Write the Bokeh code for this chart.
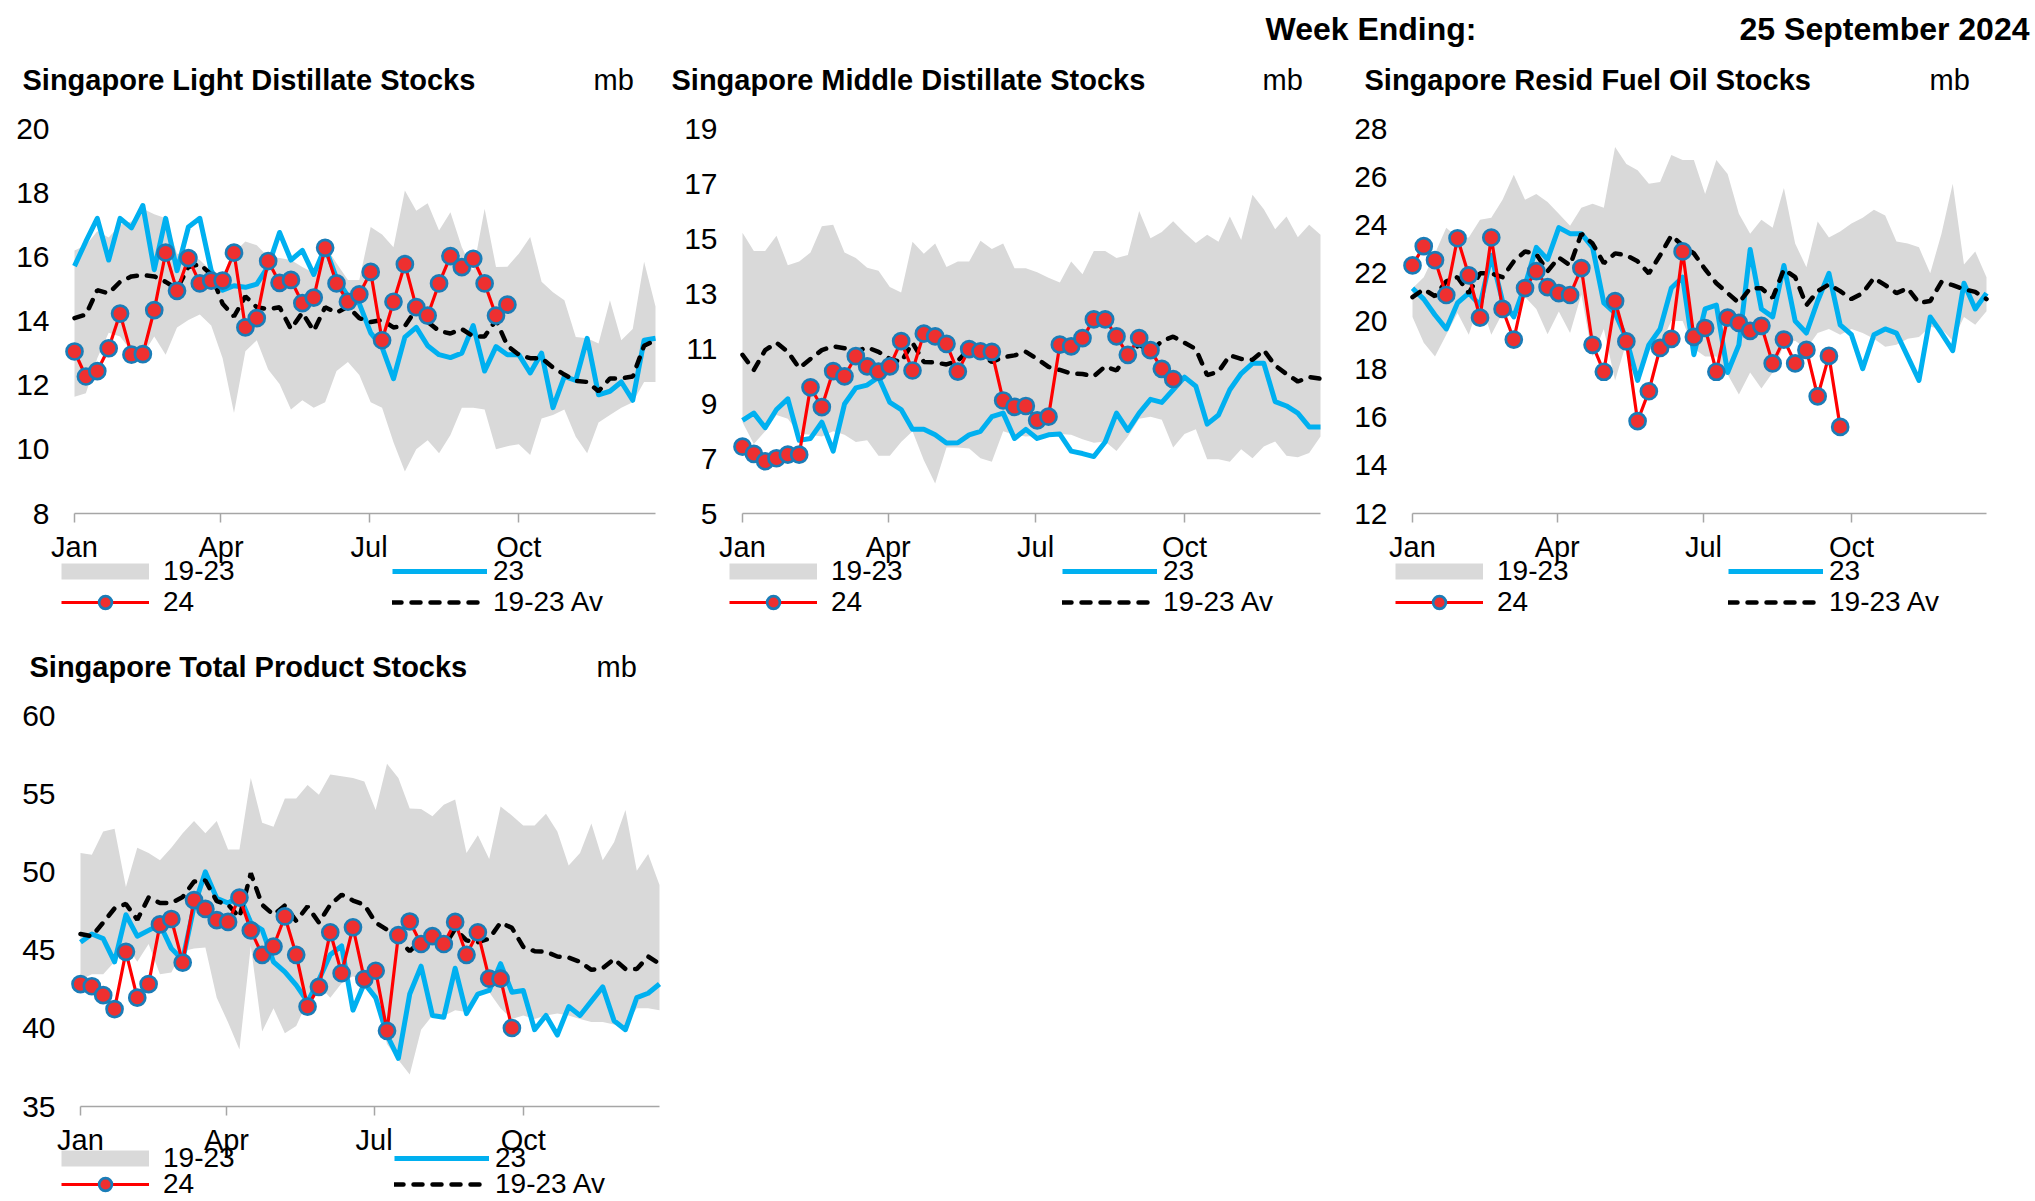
from bokeh.plotting import figure
from bokeh.models import Range1d, FixedTicker, Label, Legend, LegendItem, ColumnDataSource
from bokeh.layouts import column, row
from bokeh.embed import file_html
from bokeh.resources import INLINE

# ---------------- data ----------------
WEEKS = list(range(52))          # week index of the year (0 = first week of Jan)
WEEKS_24 = list(range(39))       # 2024 data up to week ending 25 Sep
MONTH_POS = [0, 90 / 7, 181 / 7, 273 / 7]
MONTHS = ["Jan", "Apr", "Jul", "Oct"]

# Singapore Light Distillate Stocks (mb)
LD_MAX = [16.2, 16.36, 16.8, 16.6, 17.0, 17.1, 17.5, 17.33, 17.2, 16.1, 16.1, 15.9, 15.57, 15.45, 16.13, 16.48,
          16.36, 16.0, 15.96, 15.9, 15.68, 15.5, 16.36, 15.8, 15.28, 15.28, 16.93, 16.7, 16.3, 18.07, 17.44, 17.67,
          16.82, 17.39, 16.3, 15.57, 17.5, 15.68, 15.69, 16.1, 16.62, 15.22, 14.9, 14.65, 13.5, 13.46, 13.3, 14.65,
          13.4, 13.75, 15.85, 14.45]
LD_MIN = [11.64, 11.75, 12.84, 13.63, 13.52, 13.06, 12.95, 13.52, 12.95, 13.8, 14.03, 14.2, 13.86, 12.84, 11.13,
          13.06, 13.4, 12.49, 12.04, 11.24, 11.53, 11.3, 11.47, 12.44, 12.72, 12.32, 11.47, 11.3, 10.22, 9.31, 10.0,
          10.28, 9.88, 10.45, 11.3, 11.3, 11.24, 10.0, 10.1, 10.16, 9.82, 10.96, 11.07, 11.24, 10.39, 9.88, 10.84,
          11.07, 11.3, 11.47, 12.1, 12.1]
LD_AVG = [14.09, 14.2, 14.96, 14.86, 15.22, 15.39, 15.43, 15.39, 15.22, 15.0, 15.68, 15.77, 15.45, 14.54, 14.14,
          14.77, 14.43, 14.37, 14.43, 13.75, 14.26, 13.69, 14.43, 14.26, 14.45, 14.09, 13.97, 14.03, 13.8, 13.84,
          14.37, 13.97, 13.69, 13.61, 13.75, 13.52, 13.52, 14.03, 13.23, 12.95, 12.84, 12.84, 12.55, 12.33, 12.13,
          12.1, 11.81, 12.21, 12.21, 12.27, 13.23, 13.4]
LD_23 = [15.71, 16.48, 17.2, 15.9, 17.2, 16.9, 17.6, 15.6, 17.2, 15.57, 16.93, 17.2, 15.57, 14.96, 15.1, 15.05,
         15.15, 15.7, 16.76, 15.9, 16.2, 15.45, 16.3, 15.34, 14.77, 14.54, 13.63, 13.18, 12.2, 13.5, 13.8, 13.23,
         12.95, 12.86, 13.0, 13.86, 12.44, 13.2, 12.95, 12.95, 12.38, 13.0, 11.3, 12.27, 12.15, 13.46, 11.7, 11.81,
         12.1, 11.53, 13.4, 13.46]
LD_24 = [13.05, 12.27, 12.44, 13.15, 14.23, 12.95, 12.97, 14.34, 16.13, 14.94, 15.96, 15.17, 15.26, 15.26, 16.13,
         13.8, 14.09, 15.87, 15.19, 15.28, 14.56, 14.73, 16.28, 15.17, 14.6, 14.83, 15.53, 13.4, 14.6, 15.77, 14.43,
         14.17, 15.17, 16.02, 15.68, 15.94, 15.17, 14.17, 14.51]

# Singapore Middle Distillate Stocks (mb)
MD_MAX = [15.21, 14.55, 14.55, 15.1, 14.03, 14.16, 14.49, 15.45, 15.5, 14.49, 14.29, 13.94, 13.83, 13.24, 13.04,
          14.88, 14.45, 14.82, 13.96, 14.16, 14.16, 14.92, 14.62, 14.82, 13.92, 13.92, 13.77, 13.57, 13.4, 14.16,
          13.7, 14.55, 14.55, 14.29, 14.4, 16.0, 15.01, 15.24, 15.63, 15.21, 14.84, 15.14, 14.88, 15.8, 14.95, 16.59,
          16.06, 15.34, 15.8, 15.05, 15.5, 15.14]
MD_MIN = [8.32, 7.53, 7.99, 8.58, 8.45, 7.9, 7.86, 7.8, 7.99, 7.86, 7.6, 7.66, 7.1, 7.1, 7.6, 7.99, 6.94, 6.09,
          7.4, 7.4, 7.36, 7.01, 6.88, 7.99, 7.86, 7.8, 7.83, 7.86, 7.89, 7.86, 7.7, 7.57, 7.62, 7.27, 7.8, 8.45,
          8.52, 8.41, 7.4, 7.89, 8.06, 6.97, 6.97, 6.88, 7.34, 7.01, 7.44, 7.62, 7.1, 7.05, 7.2, 7.8]
MD_AVG = [10.77, 10.22, 10.94, 11.21, 10.88, 10.29, 10.62, 10.94, 11.08, 11.01, 10.88, 11.04, 10.88, 10.62, 10.51,
          11.21, 10.51, 10.49, 10.42, 10.55, 10.98, 10.81, 10.51, 10.68, 10.75, 10.88, 10.62, 10.33, 10.22, 10.09,
          10.07, 9.99, 10.35, 10.2, 10.77, 11.14, 10.88, 11.27, 11.43, 11.21, 10.98, 10.03, 10.16, 10.75, 10.62,
          10.59, 10.94, 10.38, 10.07, 9.8, 9.96, 9.9]
MD_23 = [8.39, 8.65, 8.12, 8.78, 9.17, 7.66, 7.73, 8.32, 7.27, 8.98, 9.57, 9.67, 9.96, 9.04, 8.78, 8.06, 8.06, 7.86,
         7.56, 7.57, 7.86, 7.99, 8.52, 8.65, 7.73, 8.06, 7.73, 7.86, 7.89, 7.27, 7.18, 7.07, 7.6, 8.65, 8.02, 8.65,
         9.15, 9.04, 9.5, 9.96, 9.63, 8.25, 8.58, 9.5, 10.09, 10.46, 10.46, 9.07, 8.91, 8.65, 8.15, 8.15]
MD_24 = [7.43, 7.17, 6.9, 7.01, 7.14, 7.14, 9.59, 8.87, 10.18, 9.99, 10.72, 10.35, 10.16, 10.35, 11.27, 10.2, 11.54,
         11.44, 11.17, 10.16, 10.98, 10.9, 10.88, 9.11, 8.88, 8.91, 8.39, 8.52, 11.14, 11.08, 11.38, 12.06, 12.06,
         11.44, 10.77, 11.38, 10.94, 10.26, 9.89]

# Singapore Resid Fuel Oil Stocks (mb)
RF_MAX = [21.36, 21.82, 22.81, 23.88, 23.47, 23.47, 24.21, 24.29, 25.04, 26.08, 25.04, 25.28, 24.95, 24.46, 23.96,
          24.71, 24.87, 24.71, 27.23, 26.52, 26.27, 25.7, 25.78, 26.9, 26.69, 26.69, 25.28, 26.69, 26.11, 24.46,
          23.63, 24.21, 23.88, 25.53, 23.22, 22.23, 24.13, 23.47, 23.72, 24.05, 24.29, 24.62, 24.38, 23.3, 23.22,
          23.06, 21.98, 23.63, 25.7, 22.35, 22.89, 21.82]
RF_MIN = [20.17, 19.1, 18.52, 19.43, 20.33, 19.43, 20.83, 19.43, 20.33, 20.17, 21.0, 20.5, 19.45, 20.4, 19.5, 21.1,
          18.52, 19.67, 17.53, 19.1, 17.86, 18.77, 19.01, 20.0, 20.0, 18.85, 18.52, 18.52, 17.78, 16.95, 17.86, 17.2,
          17.86, 19.01, 19.18, 18.85, 19.5, 19.67, 19.43, 19.67, 19.5, 19.26, 18.93, 19.01, 19.26, 19.34, 19.76,
          19.67, 19.18, 20.17, 19.84, 20.41]
RF_AVG = [20.99, 21.32, 21.03, 21.65, 21.82, 21.16, 21.98, 21.98, 21.82, 22.48, 22.89, 22.78, 22.07, 22.64, 22.31,
          23.63, 23.22, 22.4, 22.81, 22.73, 22.48, 21.98, 22.73, 23.55, 23.14, 22.81, 22.15, 21.57, 21.16, 20.75,
          21.36, 21.36, 20.96, 22.15, 21.82, 20.66, 21.24, 21.52, 21.24, 20.91, 21.16, 21.79, 21.49, 21.16, 21.36,
          20.75, 20.83, 21.62, 21.49, 21.32, 21.21, 20.91]
RF_23 = [21.36, 20.91, 20.25, 19.67, 20.75, 21.16, 20.66, 22.73, 20.83, 20.17, 21.49, 23.06, 22.56, 23.88, 23.63,
         23.63, 23.06, 20.75, 20.33, 19.26, 17.53, 19.01, 19.67, 21.37, 21.82, 18.6, 20.5, 20.66, 17.86, 19.01,
         22.97, 20.5, 20.17, 22.31, 20.0, 19.5, 20.83, 21.98, 19.84, 19.43, 18.02, 19.43, 19.67, 19.5, 18.52, 17.53,
         20.17, 19.5, 18.77, 21.57, 20.5, 21.16]
RF_24 = [22.31, 23.11, 22.53, 21.08, 23.44, 21.9, 20.14, 23.47, 20.5, 19.23, 21.37, 22.07, 21.41, 21.16, 21.08,
         22.2, 19.01, 17.89, 20.83, 19.15, 15.84, 17.08, 18.88, 19.26, 22.89, 19.34, 19.71, 17.89, 20.14, 19.92,
         19.59, 19.8, 18.24, 19.23, 18.24, 18.8, 16.87, 18.55, 15.6]

# Singapore Total Product Stocks (mb)
TP_MAX = [51.21, 51.1, 52.58, 52.76, 49.04, 51.55, 51.21, 50.75, 51.55, 52.47, 53.26, 52.47, 53.26, 51.44, 51.44,
          56.0, 53.15, 52.88, 54.7, 54.7, 55.55, 54.93, 56.23, 56.12, 56.0, 55.78, 53.95, 56.92, 56.0, 54.06, 54.02,
          53.56, 54.29, 54.63, 51.21, 52.35, 50.82, 54.18, 53.61, 52.97, 52.97, 53.72, 52.58, 50.41, 51.21, 53.1,
          50.75, 51.89, 53.95, 50.07, 51.14, 49.16]
TP_MIN = [43.1, 43.45, 43.45, 44.25, 45.39, 44.25, 45.39, 43.45, 43.56, 44.93, 45.11, 45.16, 41.96, 40.37, 38.65,
          45.27, 39.79, 41.28, 39.68, 40.14, 41.74, 42.76, 41.96, 42.88, 43.33, 42.88, 41.62, 39.0, 37.97, 37.05,
          39.91, 40.82, 40.78, 41.16, 41.05, 42.19, 42.31, 41.28, 40.59, 40.82, 40.59, 40.82, 40.94, 40.82, 40.59,
          40.41, 40.41, 40.25, 40.18, 41.28, 41.28, 41.16]
TP_AVG = [46.03, 45.89, 46.76, 47.67, 47.95, 46.94, 48.36, 48.01, 48.01, 48.4, 49.38, 49.45, 48.13, 47.9, 47.1,
          49.91, 47.9, 47.26, 47.85, 46.87, 47.79, 46.76, 47.9, 48.54, 48.17, 47.9, 46.76, 46.3, 45.66, 44.93, 45.62,
          45.84, 45.21, 46.35, 45.62, 45.5, 45.73, 46.76, 46.42, 45.21, 44.93, 44.89, 44.59, 44.52, 44.25, 43.74,
          43.84, 44.43, 43.79, 43.79, 44.59, 44.13]
TP_23 = [45.5, 46.03, 45.73, 44.25, 47.26, 45.89, 46.26, 46.64, 45.11, 44.36, 47.79, 50.0, 48.31, 48.01, 48.47,
         46.76, 46.3, 44.25, 43.61, 42.76, 41.69, 43.1, 44.7, 45.27, 41.16, 42.88, 41.96, 39.57, 38.08, 42.19, 43.97,
         40.82, 40.71, 43.84, 40.94, 42.19, 42.42, 44.13, 42.31, 42.42, 39.91, 40.82, 39.57, 41.39, 40.82, 41.74,
         42.65, 40.48, 39.91, 41.96, 42.24, 42.83]
TP_24 = [42.83, 42.69, 42.12, 41.23, 44.89, 41.96, 42.83, 46.64, 46.99, 44.2, 48.2, 47.63, 46.92, 46.8, 48.36,
         46.26, 44.7, 45.23, 47.15, 44.7, 41.39, 42.65, 46.14, 43.52, 46.46, 43.15, 43.68, 39.84, 45.96, 46.83, 45.39,
         45.89, 45.39, 46.8, 44.7, 46.14, 43.17, 43.17, 40.02]

# ---------------- style ----------------
FONT = "Liberation Sans"
BAND_C = "#d9d9d9"
BLUE_C = "#00b0f0"
RED_C = "#ff0000"
DOT_FILL = "#ee3030"
DOT_LINE = "#1a7db8"
AXIS_C = "#a6a6a6"


def ext_range(d0, d1, p0, p1, total):
    """Range so that value d0 lands at pixel p0 and d1 at pixel p1 of a canvas 'total' px long."""
    ppu = (p1 - p0) / (d1 - d0)
    return Range1d(d0 - p0 / ppu, d1 + (total - p1) / ppu)


def make_chart(title, title_x, title_y, mb_x, yticks, ymin, ymax, lo, hi, avg, s23, s24,
               W, H, box, leg_x, leg_rows):
    left, right, top, bottom = box           # plot box in canvas pixels (y measured down)
    p = figure(width=W, height=H,
               x_range=ext_range(0, 51, left, right, W),
               y_range=ext_range(ymin, ymax, H - bottom, H - top, H),
               output_backend="svg", toolbar_location=None, title=None, min_border=0,
               min_border_left=0, min_border_right=0, min_border_top=0, min_border_bottom=0)
    p.outline_line_color = None
    p.xgrid.visible = False
    p.ygrid.visible = False
    p.background_fill_color = "white"
    p.border_fill_color = "white"

    src = ColumnDataSource(dict(week=WEEKS, lo=lo, hi=hi, avg=avg, y23=s23))
    src24 = ColumnDataSource(dict(week=WEEKS_24, y24=s24))
    p.varea(x="week", y1="lo", y2="hi", source=src, fill_color=BAND_C, fill_alpha=1)
    r23 = p.line(x="week", y="y23", source=src, line_color=BLUE_C, line_width=5, line_join="round")
    ravg = p.line(x="week", y="avg", source=src, line_color="black", line_width=4.5,
                  line_dash="9 10", line_cap="round")
    r24 = p.line(x="week", y="y24", source=src24, line_color=RED_C, line_width=3.2)
    rdot = p.scatter(x="week", y="y24", source=src24, size=16, fill_color=DOT_FILL,
                     line_color=DOT_LINE, line_width=2.7)
    # legend key for the 19-23 range band (a thick grey stroke, nothing drawn in the plot)
    rkey = p.multi_line(xs=[[float("nan")]], ys=[[float("nan")]], line_color=BAND_C, line_width=16)

    xa = p.xaxis[0]
    xa.fixed_location = ymin
    xa.bounds = (0, 51)
    xa.ticker = FixedTicker(ticks=MONTH_POS)
    xa.major_label_overrides = dict(zip(MONTH_POS, MONTHS))
    xa.axis_line_color = AXIS_C
    xa.axis_line_width = 1.5
    xa.major_tick_line_color = AXIS_C
    xa.major_tick_line_width = 1.5
    xa.major_tick_in = 0
    xa.major_tick_out = 9
    xa.minor_tick_line_color = None
    xa.major_label_standoff = 8
    xa.major_label_text_font = FONT
    xa.major_label_text_font_size = "29px"
    xa.major_label_text_color = "black"

    ya = p.yaxis[0]
    ya.fixed_location = 0
    ya.ticker = FixedTicker(ticks=yticks)
    ya.axis_line_color = None
    ya.major_tick_line_color = None
    ya.minor_tick_line_color = None
    ya.major_tick_in = 0
    ya.major_tick_out = 0
    ya.major_label_standoff = 25
    ya.major_label_text_font = FONT
    ya.major_label_text_font_size = "30px"
    ya.major_label_text_color = "black"

    p.add_layout(Label(x=title_x, y=H - title_y, x_units="screen", y_units="screen", text=title,
                       text_font=FONT, text_font_size="29px", text_font_style="bold",
                       text_baseline="middle", text_align="left", text_color="black"))
    p.add_layout(Label(x=mb_x, y=H - title_y, x_units="screen", y_units="screen", text="mb",
                       text_font=FONT, text_font_size="29px", text_baseline="middle",
                       text_align="left", text_color="black"))

    def add_leg(label, renderers, x, yc, standoff, gw):
        leg = Legend(items=[LegendItem(label=label, renderers=renderers)],
                     location=(left + x, H - (yc + 16)),
                     orientation="vertical", padding=0, margin=0, spacing=0,
                     glyph_width=gw, glyph_height=32, label_height=32, label_standoff=standoff,
                     border_line_color=None, background_fill_alpha=0,
                     label_text_font=FONT, label_text_font_size="28px", label_text_color="black")
        p.add_layout(leg)

    add_leg("19-23", [rkey], leg_x[0], leg_rows[0], 14, 88)
    add_leg("24", [r24, rdot], leg_x[0], leg_rows[1], 14, 88)
    add_leg("23", [r23], leg_x[1], leg_rows[0], 6, 95)
    add_leg("19-23 Av", [ravg], leg_x[1], leg_rows[1], 6, 95)
    return p


HDR_H = 50
hdr = figure(width=2035, height=HDR_H, x_range=Range1d(0, 1), y_range=Range1d(0, 1),
             output_backend="svg", toolbar_location=None, min_border=0,
             min_border_left=0, min_border_right=0, min_border_top=0, min_border_bottom=0,
             x_axis_type=None, y_axis_type=None, title=None)
hdr.outline_line_color = None
hdr.add_layout(Label(x=1265, y=HDR_H - 28.5, x_units="screen", y_units="screen", text="Week Ending:",
                     text_font=FONT, text_font_size="32px", text_font_style="bold",
                     text_baseline="middle", text_align="left", text_color="black"))
hdr.add_layout(Label(x=2029, y=HDR_H - 28.5, x_units="screen", y_units="screen", text="25 September 2024",
                     text_font=FONT, text_font_size="32px", text_font_style="bold",
                     text_baseline="middle", text_align="right", text_color="black"))

TOP_H = 570      # top row canvases span page y 50..620
BOT_H = 581      # bottom chart canvas spans page y 620..1201

f1 = make_chart("Singapore Light Distillate Stocks", 22, 29, 593, list(range(8, 21, 2)), 8, 20,
                LD_MIN, LD_MAX, LD_AVG, LD_23, LD_24, 668, TOP_H, (74, 655, 78, 463),
                (-13, 318), (521, 552))
f2 = make_chart("Singapore Middle Distillate Stocks", 3, 29, 594, list(range(5, 20, 2)), 5, 19,
                MD_MIN, MD_MAX, MD_AVG, MD_23, MD_24, 672, TOP_H, (74, 652, 78, 463),
                (-13, 320), (521, 552))
f3 = make_chart("Singapore Resid Fuel Oil Stocks", 24, 29, 589, list(range(12, 29, 2)), 12, 28,
                RF_MIN, RF_MAX, RF_AVG, RF_23, RF_24, 695, TOP_H, (72, 646, 78, 463),
                (-17, 316), (521, 552))
f4 = make_chart("Singapore Total Product Stocks", 29, 46, 596, list(range(35, 61, 5)), 35, 60,
                TP_MIN, TP_MAX, TP_AVG, TP_23, TP_24, 668, BOT_H, (80, 659, 95, 486),
                (-19, 314), (538, 564))

layout = column(row(hdr), row(f1, f2, f3), row(f4))
open("out.html", "w").write(file_html(layout, INLINE))
